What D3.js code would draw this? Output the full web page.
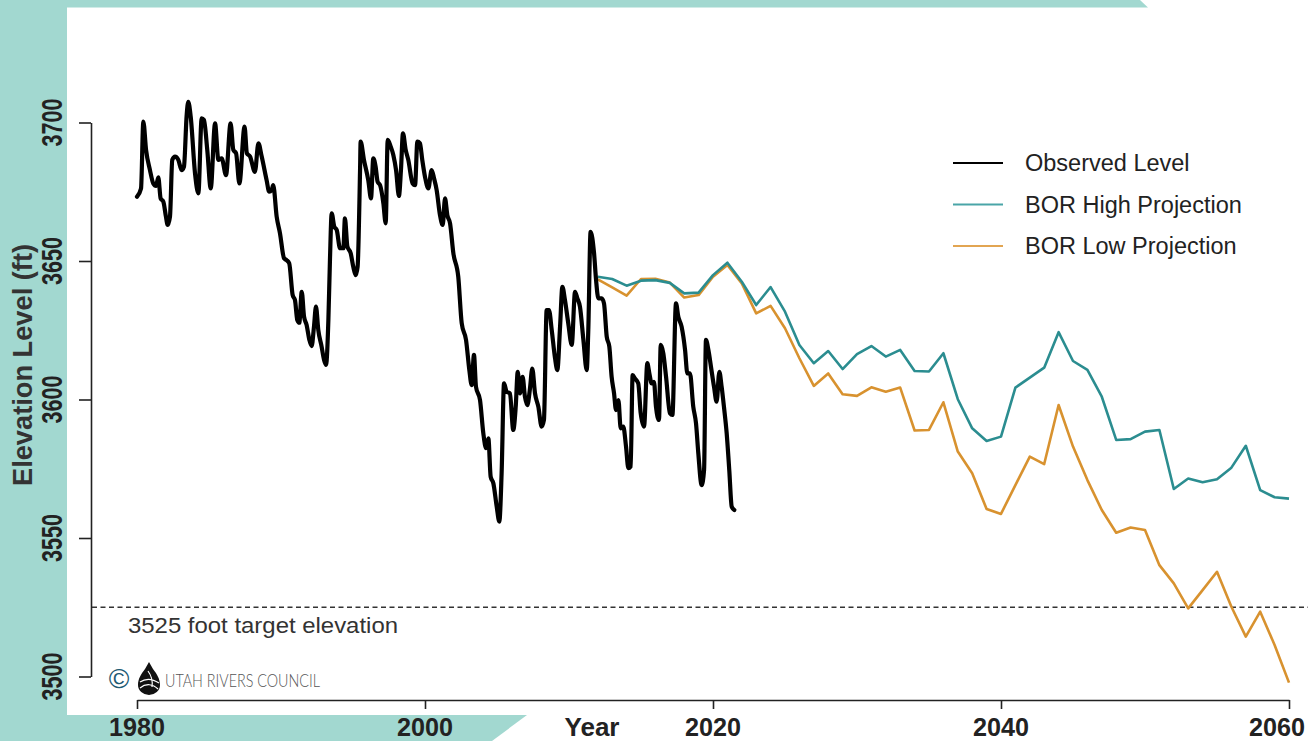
<!DOCTYPE html>
<html>
<head>
<meta charset="utf-8">
<script src="https://cdn.jsdelivr.net/npm/d3@7"></script>
<style>
  html, body { margin: 0; padding: 0; background: #fff; }
  svg { display: block; font-family: "Liberation Sans", Arial, Helvetica, sans-serif; }
</style>
</head>
<body>
<div id="chart"></div>
<script>
// Observed lake elevation (ft)
const observedYears = [
  1980.00, 1980.28, 1980.44, 1980.63, 1980.90, 1981.13, 1981.32, 1981.48, 1981.64, 1981.83,
  1982.01, 1982.13, 1982.29, 1982.45, 1982.64, 1982.87, 1983.10, 1983.26, 1983.45, 1983.56,
  1983.73, 1984.03, 1984.26, 1984.49, 1984.65, 1984.88, 1985.12, 1985.42, 1985.65, 1985.88,
  1986.18, 1986.50, 1986.69, 1986.88, 1987.11, 1987.47, 1987.63, 1987.85, 1988.19, 1988.43,
  1988.66, 1989.00, 1989.18, 1989.35, 1989.46, 1989.70, 1989.93, 1990.21, 1990.39, 1990.57,
  1990.81, 1990.97, 1991.13, 1991.27, 1991.44, 1991.60, 1991.78, 1991.97, 1992.13, 1992.29,
  1992.43, 1992.59, 1992.82, 1992.99, 1993.13, 1993.29, 1993.40, 1993.52, 1993.70, 1993.87,
  1994.10, 1994.33, 1994.44, 1994.61, 1994.84, 1995.02, 1995.19, 1995.32, 1995.49, 1995.53,
  1995.76, 1996.06, 1996.25, 1996.41, 1996.57, 1996.71, 1996.88, 1997.11, 1997.27, 1997.41,
  1997.62, 1997.80, 1997.99, 1998.19, 1998.33, 1998.47, 1998.66, 1998.84, 1999.14, 1999.31,
  1999.47, 1999.65, 1999.81, 2000.00, 2000.23, 2000.46, 2000.63, 2000.81, 2001.04, 2001.23,
  2001.39, 2001.55, 2001.74, 2001.97, 2002.31, 2002.55, 2002.85, 2003.08, 2003.24, 2003.40,
  2003.54, 2003.82, 2004.05, 2004.24, 2004.40, 2004.56, 2004.75, 2004.98, 2005.16, 2005.32,
  2005.49, 2005.67, 2005.90, 2006.13, 2006.30, 2006.44, 2006.60, 2006.78, 2006.94, 2007.11,
  2007.29, 2007.45, 2007.64, 2007.87, 2008.10, 2008.26, 2008.45, 2008.61, 2008.80, 2009.03,
  2009.19, 2009.38, 2009.54, 2009.72, 2009.95, 2010.19, 2010.42, 2010.58, 2010.76, 2011.00,
  2011.23, 2011.34, 2011.50, 2011.74, 2011.88, 2012.04, 2012.27, 2012.43, 2012.62, 2012.80,
  2012.96, 2013.13, 2013.26, 2013.43, 2013.59, 2013.77, 2013.96, 2014.12, 2014.28, 2014.42,
  2014.58, 2014.81, 2014.98, 2015.21, 2015.44, 2015.58, 2015.74, 2015.90, 2016.04, 2016.25,
  2016.37, 2016.55, 2016.74, 2017.01, 2017.18, 2017.43, 2017.59, 2017.82, 2018.06, 2018.22,
  2018.40, 2018.63, 2018.82, 2018.98, 2019.21, 2019.38, 2019.51, 2019.68, 2019.86, 2020.07,
  2020.25, 2020.44, 2020.60, 2020.76, 2020.95, 2021.13, 2021.30, 2021.48
];
const observedLevels = [
  3673.2, 3676.2, 3700.3, 3690.1, 3682.8, 3678.0, 3677.1, 3680.2, 3672.6, 3671.4,
  3666.0, 3663.0, 3666.0, 3686.5, 3687.7, 3686.5, 3682.8, 3684.0, 3702.7, 3707.5,
  3702.1, 3681.6, 3674.4, 3701.5, 3700.9, 3690.1, 3676.2, 3699.7, 3686.5, 3687.1,
  3681.0, 3699.7, 3690.1, 3688.9, 3678.0, 3698.5, 3688.9, 3687.7, 3682.2, 3692.5,
  3687.7, 3679.2, 3675.0, 3675.6, 3677.4, 3666.0, 3660.0, 3651.0, 3650.3, 3649.2,
  3637.7, 3635.9, 3628.7, 3627.7, 3638.9, 3629.9, 3626.9, 3621.5, 3619.3, 3626.3,
  3633.5, 3625.1, 3619.1, 3614.3, 3612.5, 3628.7, 3650.4, 3667.2, 3662.4, 3661.2,
  3654.6, 3654.6, 3665.4, 3655.2, 3652.8, 3647.9, 3644.9, 3647.9, 3682.8, 3693.1,
  3686.5, 3679.2, 3672.6, 3687.1, 3684.1, 3678.6, 3677.4, 3670.8, 3663.6, 3693.7,
  3691.3, 3688.3, 3682.8, 3673.5, 3682.8, 3696.1, 3690.1, 3686.5, 3678.0, 3677.4,
  3693.1, 3692.5, 3686.5, 3680.4, 3676.2, 3682.8, 3679.8, 3675.6, 3666.6, 3663.0,
  3672.6, 3666.6, 3663.6, 3652.8, 3644.3, 3627.5, 3621.5, 3610.6, 3605.2, 3616.1,
  3604.6, 3599.8, 3587.8, 3582.4, 3586.0, 3572.1, 3569.7, 3561.3, 3555.9, 3573.3,
  3605.8, 3602.8, 3602.2, 3589.0, 3597.4, 3610.0, 3602.2, 3608.2, 3601.0, 3598.0,
  3604.0, 3611.2, 3602.2, 3597.4, 3590.2, 3592.6, 3632.3, 3632.3, 3625.1, 3614.9,
  3610.6, 3626.3, 3640.7, 3635.9, 3627.5, 3619.7, 3638.9, 3636.5, 3633.5, 3621.5,
  3610.6, 3625.1, 3660.5, 3652.8, 3643.1, 3636.5, 3636.5, 3634.7, 3622.7, 3619.1,
  3608.2, 3602.2, 3596.2, 3599.8, 3589.6, 3590.2, 3583.0, 3575.2, 3575.8, 3608.8,
  3607.6, 3605.8, 3595.0, 3590.2, 3613.1, 3609.4, 3605.8, 3606.4, 3597.4, 3592.6,
  3619.7, 3616.7, 3608.2, 3595.0, 3594.4, 3634.7, 3629.9, 3626.3, 3617.9, 3609.4,
  3609.4, 3597.4, 3591.4, 3580.6, 3569.1, 3574.5, 3621.5, 3617.9, 3611.8, 3604.6,
  3599.2, 3610.0, 3604.6, 3597.4, 3587.8, 3574.5, 3561.3, 3560.1
];

// BOR projections, one value per year
const projectionYears = [
  2012, 2013, 2014, 2015, 2016, 2017, 2018, 2019, 2020, 2021,
  2022, 2023, 2024, 2025, 2026, 2027, 2028, 2029, 2030, 2031,
  2032, 2033, 2034, 2035, 2036, 2037, 2038, 2039, 2040, 2041,
  2042, 2043, 2044, 2045, 2046, 2047, 2048, 2049, 2050, 2051,
  2052, 2053, 2054, 2055, 2056, 2057, 2058, 2059, 2060
];
const highProjection = [
  3644.3, 3643.5, 3641.1, 3642.9, 3643.1, 3642.1, 3638.3, 3638.6, 3644.9, 3649.4,
  3642.5, 3634.1, 3640.6, 3631.7, 3619.7, 3613.1, 3617.5, 3611.0, 3616.4, 3619.3,
  3615.5, 3617.9, 3610.3, 3610.1, 3616.7, 3600.1, 3589.6, 3585.0, 3586.6, 3604.3,
  3607.9, 3611.5, 3624.3, 3613.9, 3610.7, 3601.0, 3585.4, 3585.7, 3588.4, 3589.0,
  3567.7, 3571.5, 3570.1, 3571.2, 3575.4, 3583.3, 3567.3, 3564.7, 3564.2
];
const lowProjection = [
  3643.4, 3640.5, 3637.5, 3643.5, 3643.6, 3642.2, 3636.8, 3637.7, 3644.3, 3648.6,
  3641.9, 3631.1, 3633.8, 3625.7, 3614.9, 3604.9, 3609.4, 3601.9, 3601.3, 3604.4,
  3602.8, 3604.3, 3588.8, 3589.0, 3599.0, 3581.2, 3573.4, 3560.5, 3558.7, 3569.1,
  3579.4, 3576.7, 3598.0, 3583.0, 3570.9, 3560.1, 3551.9, 3553.8, 3552.9, 3540.2,
  3533.6, 3524.6, 3531.2, 3537.8, 3525.2, 3514.4, 3523.4, 3511.4, 3497.8
];

const targetElevation = 3525;
const xTicks = [1980, 2000, 2020, 2040, 2060];
const yTicks = [3500, 3550, 3600, 3650, 3700];
const legendLabels = ['Observed Level', 'BOR High Projection', 'BOR Low Projection'];
const legendColors = ['#000000', '#4aa5a8', '#e2a552'];

const W = 1308, H = 741;
const teal = '#a2d8d0';
const highColor = '#2b8d90';
const lowColor = '#d8922f';

const svg = d3.select('#chart').append('svg')
    .attr('width', W)
    .attr('height', H);

// Decorative teal frame pieces
svg.append('rect').attr('x', 0).attr('y', 0).attr('width', W).attr('height', H).attr('fill', '#fff');
svg.append('rect').attr('x', 0).attr('y', 0).attr('width', 67).attr('height', H).attr('fill', teal);
svg.append('path').attr('d', 'M0,0H1140L1148,7.5H0Z').attr('fill', teal);
svg.append('path').attr('d', 'M0,715H527L492,741H0Z').attr('fill', teal);

// Scales
const x = d3.scaleLinear().domain([1980, 2060]).range([137, 1289]);
const y = d3.scaleLinear().domain([3500, 3700]).range([676.5, 122.5]);

// Axes
const xAxis = d3.axisBottom(x).tickValues(xTicks).tickSize(9).tickSizeOuter(0).tickFormat('');
const yAxis = d3.axisLeft(y).tickValues(yTicks).tickSize(12).tickSizeOuter(0).tickFormat('');

svg.append('g')
    .attr('class', 'x-axis')
    .attr('transform', 'translate(0,700)')
    .call(xAxis)
    .call(g => g.selectAll('path, line').attr('stroke', '#222').attr('stroke-width', 1.6));

svg.append('g')
    .attr('class', 'y-axis')
    .attr('transform', 'translate(91,0)')
    .call(yAxis)
    .call(g => g.selectAll('path, line').attr('stroke', '#222').attr('stroke-width', 1.6));

// Tick labels (the last one is pulled in so it stays inside the page)
const xLabelHalf = 28;
svg.append('g').selectAll('text')
    .data(xTicks)
    .join('text')
    .attr('x', d => Math.min(x(d), W - 3 - xLabelHalf))
    .attr('y', 735.5)
    .attr('text-anchor', 'middle')
    .attr('font-size', 26)
    .attr('font-weight', 'bold')
    .attr('fill', '#222')
    .attr('textLength', 2 * xLabelHalf)
    .attr('lengthAdjust', 'spacingAndGlyphs')
    .text(d => d);

svg.append('g').selectAll('text')
    .data(yTicks)
    .join('text')
    .attr('transform', d => `translate(62,${y(d)}) rotate(-90)`)
    .attr('text-anchor', 'middle')
    .attr('font-size', 30)
    .attr('font-weight', 'bold')
    .attr('fill', '#222')
    .attr('textLength', 48)
    .attr('lengthAdjust', 'spacingAndGlyphs')
    .text(d => d);

// Axis titles
svg.append('text')
    .attr('x', 592)
    .attr('y', 735.5)
    .attr('text-anchor', 'middle')
    .attr('font-size', 26)
    .attr('font-weight', 'bold')
    .attr('fill', '#222')
    .attr('textLength', 55)
    .attr('lengthAdjust', 'spacingAndGlyphs')
    .text('Year');

svg.append('text')
    .attr('transform', 'translate(32,365) rotate(-90)')
    .attr('text-anchor', 'middle')
    .attr('font-size', 27)
    .attr('font-weight', 'bold')
    .attr('fill', '#333')
    .attr('textLength', 242)
    .attr('lengthAdjust', 'spacingAndGlyphs')
    .text('Elevation Level (ft)');

// Target elevation line
svg.append('line')
    .attr('x1', 92)
    .attr('x2', W)
    .attr('y1', y(targetElevation))
    .attr('y2', y(targetElevation))
    .attr('stroke', '#333')
    .attr('stroke-width', 1.4)
    .attr('stroke-dasharray', '5,3.5');

svg.append('text')
    .attr('x', 128)
    .attr('y', 633)
    .attr('font-size', 22)
    .attr('fill', '#333')
    .attr('textLength', 270)
    .attr('lengthAdjust', 'spacingAndGlyphs')
    .text(`${targetElevation} foot target elevation`);

// Lines
const line = d3.line()
    .x(d => x(d[0]))
    .y(d => y(d[1]));

const highData = projectionYears.map((yr, i) => [yr, highProjection[i]]);
const lowData = projectionYears.map((yr, i) => [yr, lowProjection[i]]);
const obsData = observedYears.map((yr, i) => [yr, observedLevels[i]]);

svg.append('path')
    .datum(lowData)
    .attr('fill', 'none')
    .attr('stroke', lowColor)
    .attr('stroke-width', 2.6)
    .attr('stroke-linejoin', 'round')
    .attr('d', line);

svg.append('path')
    .datum(highData)
    .attr('fill', 'none')
    .attr('stroke', highColor)
    .attr('stroke-width', 2.6)
    .attr('stroke-linejoin', 'round')
    .attr('d', line);

svg.append('path')
    .datum(obsData)
    .attr('fill', 'none')
    .attr('stroke', '#000')
    .attr('stroke-width', 4.2)
    .attr('stroke-linejoin', 'round')
    .attr('stroke-linecap', 'round')
    .attr('d', line.curve(d3.curveMonotoneX));

// Legend
const legend = svg.append('g').attr('class', 'legend');
legendLabels.forEach((label, i) => {
    const ly = 163 + i * 41.5;
    legend.append('line')
        .attr('x1', 953).attr('x2', 1003)
        .attr('y1', ly).attr('y2', ly)
        .attr('stroke', legendColors[i])
        .attr('stroke-width', 1.8);
    legend.append('text')
        .attr('x', 1025)
        .attr('y', ly + 8)
        .attr('font-size', 23.5)
        .attr('fill', '#222')
        .text(label);
});

// Utah Rivers Council credit
const logo = svg.append('g').attr('class', 'credit');
logo.append('text')
    .attr('x', 119)
    .attr('y', 688)
    .attr('text-anchor', 'middle')
    .attr('font-size', 28)
    .attr('fill', '#1d5a74')
    .text('\u00A9');
logo.append('path')
    .attr('d', 'M149,662 L153,669 C157,674 160,679 160,685 A11,10 0 0 1 138,685 C138,679 141,674 145,669 Z')
    .attr('fill', '#111');
logo.append('path')
    .attr('d', 'M140,682 C146,678 153,679 159,683 M140,688 C146,683 153,684 158,689 M148,671 C151,675 153,680 152,687')
    .attr('fill', 'none')
    .attr('stroke', '#fff')
    .attr('stroke-width', 1.2);
logo.append('text')
    .attr('x', 165)
    .attr('y', 687)
    .attr('font-size', 17)
    .attr('font-family', 'Lato, Roboto, "Liberation Sans", sans-serif')
    .attr('font-weight', 300)
    .attr('fill', '#555')
    .attr('textLength', 155)
    .attr('lengthAdjust', 'spacingAndGlyphs')
    .text('UTAH RIVERS COUNCIL');
</script>
</body>
</html>
